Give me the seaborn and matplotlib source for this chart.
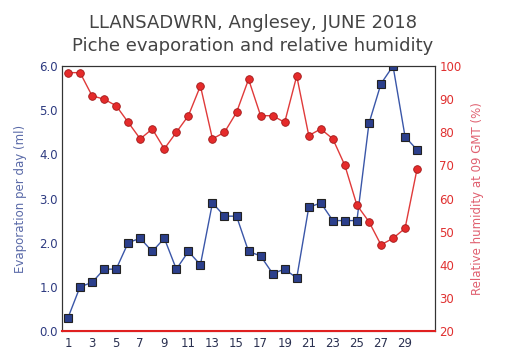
import pandas as pd
import seaborn as sns
import matplotlib.pyplot as plt

days = list(range(1, 31))
evaporation = [0.3, 1.0, 1.1, 1.4, 1.4, 2.0, 2.1, 1.8, 2.1, 1.4,
               1.8, 1.5, 2.9, 2.6, 2.6, 1.8, 1.7, 1.3, 1.4, 1.2,
               2.8, 2.9, 2.5, 2.5, 2.5, 4.7, 5.6, 6.0, 4.4, 4.1]
humidity = [98, 98, 91, 90, 88, 83, 78, 81, 75, 80,
            85, 94, 78, 80, 86, 96, 85, 85, 83, 97,
            79, 81, 78, 70, 58, 53, 46, 48, 51, 69]
xticks = list(range(1, 30, 2))

df = pd.DataFrame({'day': days, 'evap': evaporation, 'rh': humidity})

sns.set_style("white")
plt.rcParams['font.family'] = ['DejaVu Sans']

fig = plt.figure(figsize=(5.06, 3.6), dpi=100)
ax = fig.add_axes([0.1225, 0.0806, 0.7375, 0.736])
ax2 = ax.twinx()

sns.lineplot(data=df, x='day', y='evap', ax=ax, color='#3a56a8', linewidth=1,
             marker='s', markersize=5.5, markerfacecolor='#2b3f8c',
             markeredgecolor='#222222', markeredgewidth=0.8, zorder=3)
sns.lineplot(data=df, x='day', y='rh', ax=ax2, color='#e03a3a', linewidth=1,
             marker='o', markersize=5.5, markerfacecolor='#e52b2b',
             markeredgecolor='#a01818', markeredgewidth=0.6, zorder=3)

ax.set_xlim(0.5, 31.5)
ax.set_ylim(0, 6)
ax2.set_ylim(20, 100)
ax.set_xticks(xticks)
ax.set_yticks([0, 1, 2, 3, 4, 5, 6])
ax.set_yticklabels([f'{v:.1f}' for v in range(7)])
ax2.set_yticks(range(20, 101, 10))

ax.tick_params(axis='x', length=0, labelsize=8.5, colors='#2a3050', pad=4)
ax.tick_params(axis='y', length=0, labelsize=8.5, colors='#2d3a80', pad=3)
ax2.tick_params(axis='y', length=0, labelsize=8.5, colors='#e03030', pad=3)

ax.set_xlabel('')
ax.set_ylabel('Evaporation per day (ml)', color='#5a6aa8', fontsize=8.5, labelpad=9)
ax2.set_ylabel('Relative humidity at 09 GMT (%)', color='#e06070', fontsize=8.5, labelpad=7)

for a in (ax, ax2):
    for s in a.spines.values():
        s.set_color('#333333')
        s.set_linewidth(0.8)
ax2.spines['bottom'].set_color('#e02020')
ax2.spines['bottom'].set_linewidth(1.5)

fig.text(0.5, 0.937, 'LLANSADWRN, Anglesey, JUNE 2018', ha='center', va='center',
         fontsize=13, color='#444444')
fig.text(0.5, 0.873, 'Piche evaporation and relative humidity', ha='center', va='center',
         fontsize=13, color='#444444')

fig.savefig('out.png', dpi=100)
